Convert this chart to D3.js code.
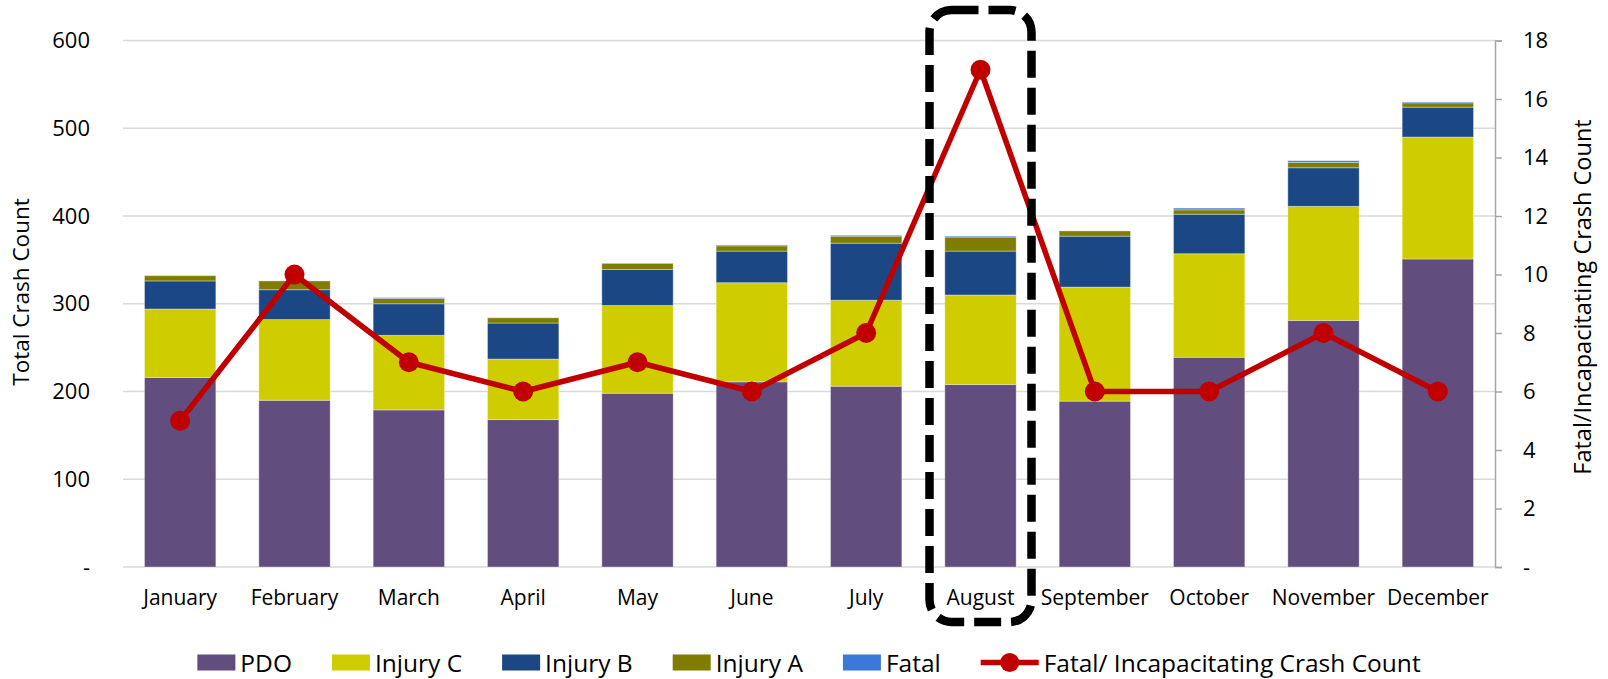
<!DOCTYPE html>
<html>
<head>
<meta charset="utf-8">
<script src="https://cdn.jsdelivr.net/npm/d3@7"></script>
<style>
  html, body { margin: 0; padding: 0; background: #ffffff; }
  svg { display: block; }
  text { font-family: "Open Sans", Lato, sans-serif; fill: #000; }
</style>
</head>
<body>
<svg id="chart" width="1608" height="679"></svg>
<script>
// Monthly crash counts by severity
const months = ["January", "February", "March", "April", "May", "June",
                "July", "August", "September", "October", "November", "December"];
const pdo     = [216, 190, 179, 168, 198, 211, 206, 208, 189, 239, 281, 351];
const injuryC = [78, 92, 85, 69, 100, 113, 98, 102, 130, 118, 130, 139];
const injuryB = [32, 34, 36, 41, 41, 36, 65, 50, 58, 45, 44, 34];
const injuryA = [6, 10, 6, 6, 7, 6, 8, 16, 6, 5, 6, 5];
const fatal   = [0, 0, 1, 0, 0, 1, 1, 1, 0, 2, 2, 1];
// Fatal / incapacitating crashes (right axis)
const fatalIncap = [5, 10, 7, 6, 7, 6, 8, 17, 6, 6, 8, 6];

const leftTicks = [0, 100, 200, 300, 400, 500, 600];
const rightTicks = [0, 2, 4, 6, 8, 10, 12, 14, 16, 18];

const seriesNames = ["PDO", "Injury C", "Injury B", "Injury A", "Fatal"];
const seriesColors = ["#614d7e", "#cfcc00", "#1b4785", "#7f7c00", "#3b78d8"];
const lineName = "Fatal/ Incapacitating Crash Count";
const lineColor = "#c00000";

const rows = months.map((m, i) => ({
  month: m,
  "PDO": pdo[i], "Injury C": injuryC[i], "Injury B": injuryB[i],
  "Injury A": injuryA[i], "Fatal": fatal[i]
}));

const svg = d3.select("#chart");
const plot = { left: 123, right: 1495, top: 40.5, bottom: 567 };
const FONT = '"Open Sans", Lato, sans-serif';

const x = d3.scaleBand().domain(months)
  .range([plot.left, plot.right]).paddingInner(0.376).paddingOuter(0.188);
const y = d3.scaleLinear().domain([0, 600]).range([plot.bottom, plot.top]);
const y2 = d3.scaleLinear().domain([0, 18]).range([plot.bottom, plot.top]);
const color = d3.scaleOrdinal().domain(seriesNames).range(seriesColors);

const fmt = v => v === 0 ? "-" : String(v);

// gridlines
svg.append("g").selectAll("line").data(leftTicks).join("line")
  .attr("x1", plot.left).attr("x2", plot.right)
  .attr("y1", d => y(d)).attr("y2", d => y(d))
  .attr("stroke", "#d9d9d9").attr("stroke-width", 1.5);

// left axis (labels only)
const leftAxis = svg.append("g")
  .attr("transform", `translate(${plot.left},0)`)
  .call(d3.axisLeft(y).tickValues(leftTicks).tickFormat(fmt).tickSize(0).tickPadding(33));
leftAxis.select(".domain").remove();
leftAxis.selectAll("text").attr("font-size", 22).style("font-family", FONT);

// right axis
const rightAxis = svg.append("g")
  .attr("transform", `translate(${plot.right},0)`)
  .call(d3.axisRight(y2).tickValues(rightTicks).tickFormat(fmt).tickSizeInner(7).tickSizeOuter(7).tickPadding(21));
rightAxis.select(".domain").attr("stroke", "#a6a6a6").attr("stroke-width", 1.5);
rightAxis.selectAll(".tick line").attr("stroke", "#a6a6a6").attr("stroke-width", 1.5);
rightAxis.selectAll("text").attr("font-size", 22).style("font-family", FONT);

// stacked bars
const stacked = d3.stack().keys(seriesNames)(rows);
svg.append("g").selectAll("g").data(stacked).join("g")
  .attr("fill", d => color(d.key))
  .selectAll("rect").data(d => d).join("rect")
  .attr("x", d => x(d.data.month))
  .attr("width", x.bandwidth())
  .attr("y", d => y(d[1]))
  .attr("height", d => Math.max(0, y(d[0]) - y(d[1])))
  .attr("stroke", "rgba(255,255,255,0.35)").attr("stroke-width", 1);

// month labels
const xAxis = svg.append("g")
  .attr("transform", `translate(0,${plot.bottom})`)
  .call(d3.axisBottom(x).tickSize(0).tickPadding(23));
xAxis.select(".domain").remove();
xAxis.selectAll("text").attr("font-size", 21).style("font-family", FONT);

// fatal / incapacitating line
const cx = m => x(m) + x.bandwidth() / 2;
svg.append("path")
  .datum(fatalIncap)
  .attr("fill", "none").attr("stroke", lineColor).attr("stroke-width", 5.5)
  .attr("stroke-linejoin", "round")
  .attr("d", d3.line().x((d, i) => cx(months[i])).y(d => y2(d)));
svg.append("g").selectAll("circle").data(fatalIncap).join("circle")
  .attr("cx", (d, i) => cx(months[i])).attr("cy", d => y2(d))
  .attr("r", 10).attr("fill", lineColor);

// axis titles
svg.append("text")
  .attr("transform", `translate(23,292) rotate(-90)`)
  .attr("text-anchor", "middle").attr("dominant-baseline", "middle")
  .attr("font-size", 22.5).text("Total Crash Count");
svg.append("text")
  .attr("transform", `translate(1585,297) rotate(-90)`)
  .attr("text-anchor", "middle").attr("dominant-baseline", "middle")
  .attr("font-size", 23.5).text("Fatal/Incapacitating Crash Count");

// highlight box around August
const hx = cx("August");
svg.append("rect")
  .attr("x", hx - 51).attr("y", 10)
  .attr("width", 102).attr("height", 612)
  .attr("rx", 22).attr("ry", 22)
  .attr("fill", "none").attr("stroke", "#000").attr("stroke-width", 8.5)
  .attr("stroke-dasharray", "27,10");

// legend
const legend = svg.append("g");
const legendItems = seriesNames.map(n => ({ name: n, type: "rect" }))
  .concat([{ name: lineName, type: "line" }]);
const legendY = 662.5;
let lx = 0;
legendItems.forEach((item, i) => {
  const g = legend.append("g").attr("transform", `translate(${lx},0)`);
  let markW;
  if (item.type === "rect") {
    markW = 38;
    g.append("rect").attr("x", 0).attr("y", legendY - 8).attr("width", markW).attr("height", 16)
      .attr("fill", color(item.name));
  } else {
    markW = 58;
    g.append("line").attr("x1", 0).attr("x2", markW).attr("y1", legendY).attr("y2", legendY)
      .attr("stroke", lineColor).attr("stroke-width", 5.5);
    g.append("circle").attr("cx", markW / 2).attr("cy", legendY).attr("r", 9.5).attr("fill", lineColor);
  }
  const t = g.append("text").attr("x", markW + 5).attr("y", legendY)
    .attr("dominant-baseline", "central").attr("font-size", 24.5).text(item.name);
  lx += markW + 5 + t.node().getComputedTextLength() + 40;
});
const legendW = lx - 40;
legend.attr("transform", `translate(${(plot.left + plot.right) / 2 - legendW / 2},0)`);
</script>
</body>
</html>
